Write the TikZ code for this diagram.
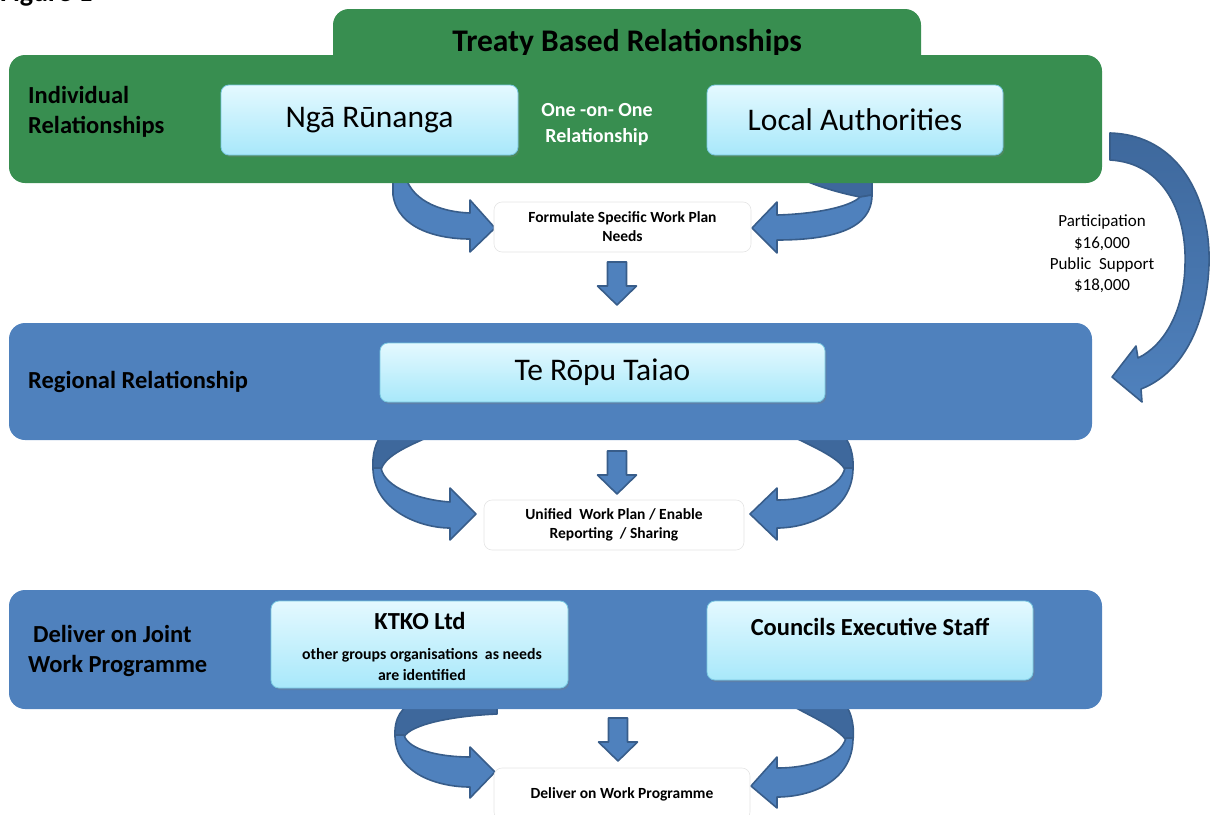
\documentclass[tikz,border=0pt]{standalone}
\usepackage{fontspec}
\setmainfont{Carlito}
\usetikzlibrary{shadows}

\definecolor{treatygreen}{RGB}{56,142,80}
\definecolor{panelblue}{RGB}{79,129,189}
\definecolor{arrowblue}{RGB}{79,129,189}
\definecolor{arrowedge}{RGB}{56,93,138}
\definecolor{arrowback}{RGB}{62,104,156}
\definecolor{boxtop}{RGB}{228,249,255}
\definecolor{boxbottom}{RGB}{168,232,250}
\definecolor{boxedge}{RGB}{120,200,225}

\tikzset{
  panel/.style={rounded corners=16pt},
  lightbox/.style={rounded corners=8pt, top color=boxtop, bottom color=boxbottom, draw=boxedge, line width=0.8pt,
    drop shadow={opacity=0.3, shadow xshift=1.5pt, shadow yshift=-2pt}},
  planbox/.style={rounded corners=8pt, fill=white, draw=black!10, line width=0.6pt, align=center,
    font=\bfseries\fontsize{15.5}{19}\selectfont},
  sidetext/.style={anchor=west, align=left, inner sep=0pt, font=\bfseries\fontsize{24.5}{30}\selectfont},
  blockarrow/.style={fill=arrowblue, draw=arrowedge, line width=1.6pt, line join=round},
  backarrow/.style={fill=arrowback, draw=arrowedge, line width=1.6pt, line join=round},
  downarrow/.pic={\draw[blockarrow] (-9.5,0) -- (-9.5,24) -- (-19.5,24) -- (0,43) -- (19.5,24) -- (9.5,24) -- (9.5,0) -- cycle;}
}

\begin{document}
\begin{tikzpicture}[x=1pt,y=-1pt]
\useasboundingbox (0,0) rectangle (1212,814);
\clip (0,0) rectangle (1212,814);

\node[anchor=base west, inner sep=0pt, font=\bfseries\fontsize{28}{32}\selectfont] (fig) at (0,1.5) {Figure 1};

% tab
\fill[treatygreen, panel] (333,9) rectangle (921,90);
\node[anchor=base, font=\bfseries\fontsize{31.5}{36}\selectfont] (treaty) at (627,51) {Treaty Based Relationships};

% arrows from the top panel
\draw[blockarrow] (393,170) -- (393,195) .. controls (398,230) and (440,239) .. (470,239) -- (470,252) -- (495,228) -- (470,200) -- (470,213) .. controls (440,212) and (408,200) .. (404,170) -- cycle;
\draw[backarrow] (800,170) -- (872,170) -- (872,195) -- (860,197) .. controls (840,193) and (815,186) .. (800,178) -- cycle;
\draw[blockarrow] (872,195) .. controls (872,228) and (835,240) .. (777,240) -- (777,253) -- (752,228) -- (777,202) -- (777,215) .. controls (815,214) and (850,207) .. (860,197) -- cycle;
\draw[blockarrow, top color=arrowback, bottom color=arrowblue] (1110,133) .. controls (1180,135) and (1211,200) .. (1209,265) .. controls (1207,320) and (1185,372) .. (1141,389) -- (1142,402) -- (1112,377) -- (1136,346) -- (1138,358) .. controls (1165,345) and (1184,310) .. (1185,265) .. controls (1187,215) and (1165,163) .. (1110,160) -- cycle;

% individual relationships
\fill[treatygreen, panel] (9,55) rectangle (1102,183);
\node[sidetext] (indiv) at (28,112) {Individual\\Relationships};
\node[lightbox, minimum width=297pt, minimum height=70pt, font=\fontsize{31.5}{36}\selectfont] (runanga) at (369.5,120) {Ngā Rūnanga};
\node[lightbox, minimum width=296pt, minimum height=70pt, font=\fontsize{31.5}{36}\selectfont] (local) at (855,120) {Local Authorities};
\node[align=center, text=white, font=\bfseries\fontsize{20}{26}\selectfont] (oneone) at (597,125) {One -on- One\\Relationship};

\node[planbox, minimum width=257pt, minimum height=50pt] (formulate) at (622.5,227) {Formulate Specific Work Plan\\Needs};
\pic at (617,262) {downarrow};
\node[align=center, font=\fontsize{17}{21.3}\selectfont] (funds) at (1102,254) {Participation\\\$16,000\\Public\ \ Support\\\$18,000};

% loops under the regional panel
\draw[backarrow] (440,432) .. controls (410,445) and (385,455) .. (381,470) -- (373,470) .. controls (372,455) and (375,440) .. (385,432) -- cycle;
\draw[blockarrow] (373,468) .. controls (373,510) and (420,528) .. (450,528) -- (450,540) -- (476,514) -- (450,488) -- (450,502) .. controls (420,500) and (385,488) .. (381,468) -- cycle;
\draw[backarrow] (783,432) .. controls (810,445) and (840,458) .. (845,470) -- (853,470) .. controls (854,455) and (850,440) .. (840,432) -- cycle;
\draw[blockarrow] (853,468) .. controls (853,510) and (810,528) .. (777,528) -- (777,540) -- (750,514) -- (777,488) -- (777,500) .. controls (810,500) and (840,488) .. (845,468) -- cycle;

% regional relationship
\fill[panelblue, panel] (9,323) rectangle (1092,440);
\node[sidetext] (regional) at (28,382) {Regional Relationship};
\node[lightbox, minimum width=445pt, minimum height=59pt, font=\fontsize{31.5}{36}\selectfont] (taiao) at (602.5,372.5) {Te Rōpu Taiao};
\pic at (617,451) {downarrow};
\node[planbox, minimum width=260pt, minimum height=50pt] (unified) at (614,525) {Unified\ \ Work Plan / Enable\\Reporting\ \ / Sharing};

% loops under the delivery panel
\draw[backarrow] (497,700) -- (497,714) .. controls (450,716) and (410,725) .. (404,737) -- (395,737) .. controls (394,720) and (400,705) .. (420,700) -- cycle;
\draw[blockarrow] (395,735) .. controls (395,775) and (440,787) .. (470,787) -- (470,798) -- (495,772) -- (470,747) -- (470,757) .. controls (440,757) and (408,750) .. (404,735) -- cycle;
\draw[backarrow] (783,700) .. controls (800,712) and (835,725) .. (846,740) -- (853,740) .. controls (855,725) and (850,705) .. (840,700) -- cycle;
\draw[blockarrow] (853,738) .. controls (853,782) and (810,797) .. (777,797) -- (777,808) -- (751,786) -- (777,757) -- (777,768) .. controls (810,768) and (840,758) .. (846,738) -- cycle;

% joint work programme
\fill[panelblue, panel] (9,590) rectangle (1102,709);
\node[sidetext] (joint) at (28,651) {\hspace*{5pt}Deliver on Joint\\Work Programme};
\node[lightbox, minimum width=297pt, minimum height=87pt] (ktko) at (419.5,644.5) {};
\node[font=\bfseries\fontsize{24.5}{28}\selectfont] (ktkoname) at (420,621) {KTKO Ltd};
\node[align=center, font=\bfseries\fontsize{15.8}{21}\selectfont] (others) at (422,664.5) {other groups organisations\ \ as needs\\are identified};
\node[lightbox, minimum width=326pt, minimum height=79pt] (councils) at (870,640.5) {};
\node[font=\bfseries\fontsize{24.5}{28}\selectfont] (staff) at (870,627) {Councils Executive Staff};
\pic at (618,718) {downarrow};
\node[planbox, minimum width=256pt, minimum height=52pt] (deliver) at (622,794) {Deliver on Work Programme};
\end{tikzpicture}
\end{document}
